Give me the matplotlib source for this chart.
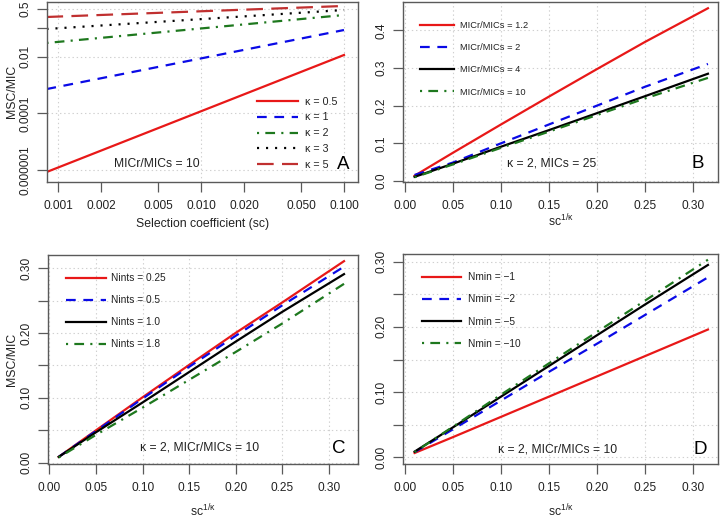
import matplotlib
matplotlib.use('Agg')
import matplotlib.pyplot as plt
from matplotlib.ticker import FixedLocator, FixedFormatter, NullFormatter

plt.rcParams['font.family'] = ['Liberation Sans', 'DejaVu Sans']
plt.rcParams['mathtext.fontset'] = 'custom'
plt.rcParams['mathtext.rm'] = 'Liberation Sans'
plt.rcParams['mathtext.it'] = 'Liberation Sans:italic'
plt.rcParams['lines.scale_dashes'] = False

# ---------------- data ----------------
# Panel A (log-log): selection coefficient vs MSC/MIC
sc_A = [0.00083, 0.1]
A_labels = ['κ = 0.5', 'κ = 1', 'κ = 2', 'κ = 3', 'κ = 5']
A_k05 = [8.5e-7, 0.0115]
A_k1 = [7.2e-4, 0.0875]
A_k2 = [0.0305, 0.296]
A_k3 = [0.095, 0.445]
A_k5 = [0.252, 0.617]

# shared x for B, C, D : sc^(1/kappa)
x_sc = [0.01, 0.05, 0.10, 0.15, 0.20, 0.25, 0.316]

# Panel B
B_labels = ['MICr/MICs = 1.2', 'MICr/MICs = 2', 'MICr/MICs = 4', 'MICr/MICs = 10']
B_r12 = [0.014, 0.075, 0.150, 0.224, 0.297, 0.369, 0.459]
B_r2 = [0.016, 0.049, 0.100, 0.150, 0.200, 0.250, 0.311]
B_r4 = [0.011, 0.046, 0.091, 0.135, 0.180, 0.225, 0.285]
B_r10 = [0.010, 0.044, 0.088, 0.131, 0.175, 0.219, 0.274]

# Panel C
C_labels = ['Nints = 0.25', 'Nints = 0.5', 'Nints = 1.0', 'Nints = 1.8']
C_n025 = [0.009, 0.050, 0.101, 0.151, 0.2005, 0.2475, 0.311]
C_n05 = [0.009, 0.049, 0.099, 0.148, 0.196, 0.243, 0.3025]
C_n10 = [0.009, 0.047, 0.093, 0.140, 0.187, 0.233, 0.291]
C_n18 = [0.008, 0.043, 0.085, 0.128, 0.171, 0.215, 0.276]

# Panel D
D_labels = ['Nmin = \u22121', 'Nmin = \u22122', 'Nmin = \u22125', 'Nmin = \u221210']
D_m1 = [0.0067, 0.031, 0.062, 0.093, 0.124, 0.155, 0.196]
D_m2 = [0.008, 0.043, 0.087, 0.131, 0.174, 0.218, 0.276]
D_m5 = [0.0088, 0.046, 0.093, 0.140, 0.187, 0.234, 0.295]
D_m10 = [0.008, 0.047, 0.096, 0.144, 0.192, 0.240, 0.303]

# ---------------- styles ----------------
RED = '#E81818'
BLUE = '#0A0AE6'
GREEN = '#1E781E'
BLACK = '#000000'
DRED = '#C03030'
LW = 1.6
SOLID = '-'
DASHED = (0, (7, 5.5))
DOTDASH = (0, (1.5, 4.5, 7, 4.5))
DOTTED = (0, (1.5, 5))
LONGDASH = (0, (12, 6))

SPINE = '#5a5a5a'
TXT = '#222222'
GRID = '#d0d0d0'

fig = plt.figure(figsize=(7.2, 5.19), dpi=100)
W, H = 720.0, 519.0


def add_ax(l, r, t, b):
    return fig.add_axes([l / W, (H - b) / H, (r - l) / W, (b - t) / H])


def style(ax):
    for s in ax.spines.values():
        s.set_color(SPINE)
        s.set_linewidth(1.0)
    ax.tick_params(axis='both', which='both', direction='out', length=7.5, width=0.9,
                   color=SPINE, labelsize=8.6, labelcolor=TXT)
    ax.tick_params(axis='x', which='both', pad=5.8)
    ax.tick_params(axis='y', which='both', pad=3.6, labelrotation=90)
    for lab in ax.get_yticklabels(which='both'):
        lab.set_va('center')
    ax.set_axisbelow(True)


def grid(ax):
    ax.grid(True, which='major', color=GRID, linestyle=(0, (1, 2)), linewidth=0.8)


def ylab(ax, x):
    ax.set_ylabel('MSC/MIC', fontsize=8.8, color=TXT)
    ax.yaxis.set_label_coords(x, 0.5)
    ax.yaxis.label.set_va('center')


def xlab_sc(ax, y):
    ax.set_xlabel(r'sc$^{\mathregular{1/κ}}$', fontsize=8.8, color=TXT)
    ax.xaxis.set_label_coords(0.5, y)
    ax.xaxis.label.set_va('baseline')


def linear_ticks(ax, xt, yt, ylabs):
    ax.set_xticks(xt)
    ax.set_xticklabels(['%.2f' % v for v in xt])
    ax.set_yticks(yt)
    ax.set_yticklabels(ylabs)


# ---------------- Panel A ----------------
axA = add_ax(47, 358, 1.7, 182)
axA.set_xscale('log')
axA.set_yscale('log')
axA.plot(sc_A, A_k05, color=RED, lw=LW, ls=SOLID, label=A_labels[0])
axA.plot(sc_A, A_k1, color=BLUE, lw=LW, ls=DASHED, label=A_labels[1])
axA.plot(sc_A, A_k2, color=GREEN, lw=LW, ls=DOTDASH, label=A_labels[2])
axA.plot(sc_A, A_k3, color=BLACK, lw=LW, ls=DOTTED, label=A_labels[3])
axA.plot(sc_A, A_k5, color=DRED, lw=LW, ls=LONGDASH, label=A_labels[4])
axA.set_xlim(10 ** -3.077, 10 ** -0.902)
axA.set_ylim(10 ** -6.42, 10 ** -0.059)
axA.xaxis.set_major_locator(FixedLocator([0.001, 0.01, 0.1]))
axA.xaxis.set_major_formatter(FixedFormatter(['0.001', '0.010', '0.100']))
axA.xaxis.set_minor_locator(FixedLocator([0.002, 0.005, 0.02, 0.05]))
axA.xaxis.set_minor_formatter(FixedFormatter(['0.002', '0.005', '0.020', '0.050']))
axA.yaxis.set_major_locator(FixedLocator([1e-6, 1e-4, 1e-2, 0.5]))
axA.yaxis.set_major_formatter(FixedFormatter(['0.000001', '0.0001', '0.01', '0.5']))
axA.yaxis.set_minor_locator(FixedLocator([0.1]))
axA.yaxis.set_minor_formatter(NullFormatter())
grid(axA)
style(axA)
ylab(axA, -0.113)
axA.set_xlabel('Selection coefficient (sc)', fontsize=8.8, color=TXT)
axA.xaxis.set_label_coords(0.5, -0.247)
axA.xaxis.label.set_va('baseline')
axA.legend(loc='upper left', bbox_to_anchor=(0.675, 0.473), frameon=False, fontsize=7.7,
           handlelength=3.8, handletextpad=0.65, labelspacing=0.54, borderpad=0,
           borderaxespad=0, labelcolor=TXT)
axA.text(0.354, 0.099, 'MICr/MICs = 10', transform=axA.transAxes, fontsize=8.7,
         ha='center', va='center', color=TXT)
axA.text(0.953, 0.099, 'A', transform=axA.transAxes, fontsize=13.5,
         ha='center', va='center', color=BLACK)

# ---------------- Panel B ----------------
axB = add_ax(403, 718, 1.7, 182)
axB.plot(x_sc, B_r12, color=RED, lw=LW, ls=SOLID, label=B_labels[0])
axB.plot(x_sc, B_r2, color=BLUE, lw=LW, ls=DASHED, label=B_labels[1])
axB.plot(x_sc, B_r4, color=BLACK, lw=LW, ls=SOLID, label=B_labels[2])
axB.plot(x_sc, B_r10, color=GREEN, lw=LW, ls=DOTDASH, label=B_labels[3])
axB.set_xlim(-0.0021, 0.3265)
axB.set_ylim(-0.0027, 0.4764)
linear_ticks(axB, [0.0, 0.05, 0.10, 0.15, 0.20, 0.25, 0.30],
             [0.0, 0.1, 0.2, 0.3, 0.4], ['0.0', '0.1', '0.2', '0.3', '0.4'])
grid(axB)
style(axB)
xlab_sc(axB, -0.247)
axB.legend(loc='upper left', bbox_to_anchor=(0.054, 0.893), frameon=False, fontsize=6.7,
           handlelength=3.65, handletextpad=0.65, labelspacing=1.42, borderpad=0,
           borderaxespad=0, labelcolor=TXT)
axB.text(0.473, 0.103, 'κ = 2, MICs = 25', transform=axB.transAxes, fontsize=8.7,
         ha='center', va='center', color=TXT)
axB.text(0.935, 0.103, 'B', transform=axB.transAxes, fontsize=13.5,
         ha='center', va='center', color=BLACK)

cd_yt = [0.0, 0.05, 0.10, 0.15, 0.20, 0.25, 0.30]
cd_yl = ['0.00', '', '0.10', '', '0.20', '', '0.30']

# ---------------- Panel C ----------------
axC = add_ax(48, 358, 255, 464)
axC.plot(x_sc, C_n025, color=RED, lw=LW, ls=SOLID, label=C_labels[0])
axC.plot(x_sc, C_n05, color=BLUE, lw=LW, ls=DASHED, label=C_labels[1])
axC.plot(x_sc, C_n10, color=BLACK, lw=LW, ls=SOLID, label=C_labels[2])
axC.plot(x_sc, C_n18, color=GREEN, lw=LW, ls=DOTDASH, label=C_labels[3])
axC.set_xlim(-0.0015, 0.331)
axC.set_ylim(-0.002, 0.3205)
linear_ticks(axC, [0.0, 0.05, 0.10, 0.15, 0.20, 0.25, 0.30], cd_yt, cd_yl)
grid(axC)
style(axC)
ylab(axC, -0.117)
xlab_sc(axC, -0.25)
axC.legend(loc='upper left', bbox_to_anchor=(0.058, 0.913), frameon=False, fontsize=7.25,
           handlelength=4.0, handletextpad=0.5, labelspacing=1.2, borderpad=0,
           borderaxespad=0, labelcolor=TXT)
axC.text(0.49, 0.081, 'κ = 2, MICr/MICs = 10', transform=axC.transAxes, fontsize=8.7,
         ha='center', va='center', color=TXT)
axC.text(0.939, 0.075, 'C', transform=axC.transAxes, fontsize=13.5,
         ha='center', va='center', color=BLACK)

# ---------------- Panel D ----------------
axD = add_ax(403, 718, 254, 464)
axD.plot(x_sc, D_m1, color=RED, lw=LW, ls=SOLID, label=D_labels[0])
axD.plot(x_sc, D_m2, color=BLUE, lw=LW, ls=DASHED, label=D_labels[1])
axD.plot(x_sc, D_m5, color=BLACK, lw=LW, ls=SOLID, label=D_labels[2])
axD.plot(x_sc, D_m10, color=GREEN, lw=LW, ls=DOTDASH, label=D_labels[3])
axD.set_xlim(-0.0021, 0.3265)
axD.set_ylim(-0.0102, 0.3118)
linear_ticks(axD, [0.0, 0.05, 0.10, 0.15, 0.20, 0.25, 0.30], cd_yt, cd_yl)
grid(axD)
style(axD)
xlab_sc(axD, -0.249)
axD.legend(loc='upper left', bbox_to_anchor=(0.059, 0.913), frameon=False, fontsize=7.3,
           handlelength=3.9, handletextpad=0.7, labelspacing=1.2, borderpad=0,
           borderaxespad=0, labelcolor=TXT)
axD.text(0.492, 0.067, 'κ = 2, MICr/MICs = 10', transform=axD.transAxes, fontsize=8.7,
         ha='center', va='center', color=TXT)
axD.text(0.943, 0.068, 'D', transform=axD.transAxes, fontsize=13.5,
         ha='center', va='center', color=BLACK)

fig.savefig('out.png', dpi=100)
